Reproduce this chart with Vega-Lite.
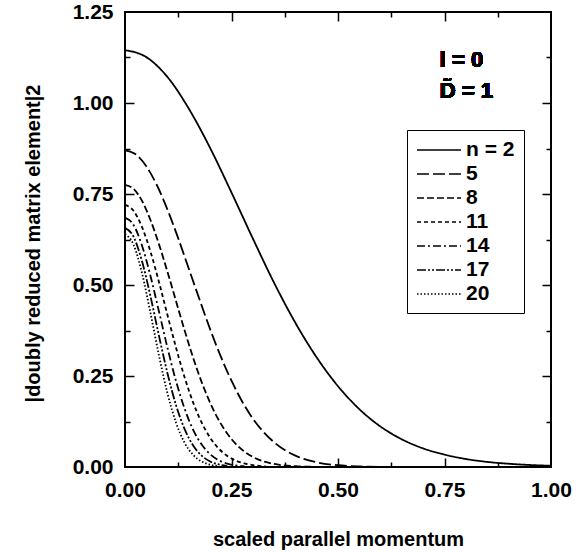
{
  "$schema": "https://vega.github.io/schema/vega-lite/v6.json",
  "autosize": "none",
  "width": 426,
  "height": 455,
  "padding": {"left": 125, "top": 12, "right": 34, "bottom": 85},
  "background": "white",
  "config": {
    "view": {"stroke": "black", "strokeWidth": 2},
    "font": "Liberation Sans",
    "axis": {
      "grid": false, "domain": false,
      "labelFont": "Liberation Sans", "labelFontSize": 21, "labelFontWeight": "bold", "labelColor": "black",
      "titleFont": "Liberation Sans", "titleFontSize": 20, "titleFontWeight": "bold", "titleColor": "black",
      "tickColor": "black", "tickWidth": 1.5
    }
  },
  "data": {"values": [
    {"s":"n = 2","x":0,"y":1.145},{"s":"n = 2","x":0.05,"y":1.126},{"s":"n = 2","x":0.1,"y":1.071},{"s":"n = 2","x":0.15,"y":0.984},{"s":"n = 2","x":0.2,"y":0.876},{"s":"n = 2","x":0.25,"y":0.754},{"s":"n = 2","x":0.3,"y":0.628},{"s":"n = 2","x":0.35,"y":0.506},{"s":"n = 2","x":0.4,"y":0.396},{"s":"n = 2","x":0.45,"y":0.301},{"s":"n = 2","x":0.5,"y":0.222},{"s":"n = 2","x":0.55,"y":0.159},{"s":"n = 2","x":0.6,"y":0.111},{"s":"n = 2","x":0.65,"y":0.076},{"s":"n = 2","x":0.7,"y":0.051},{"s":"n = 2","x":0.75,"y":0.034},{"s":"n = 2","x":0.8,"y":0.022},{"s":"n = 2","x":0.85,"y":0.014},{"s":"n = 2","x":0.9,"y":0.009},{"s":"n = 2","x":0.95,"y":0.0055},{"s":"n = 2","x":1.0,"y":0.0035},
    {"s":"5","x":0,"y":0.87},{"s":"5","x":0.025,"y":0.859},{"s":"5","x":0.05,"y":0.826},{"s":"5","x":0.075,"y":0.774},{"s":"5","x":0.1,"y":0.706},{"s":"5","x":0.125,"y":0.628},{"s":"5","x":0.15,"y":0.544},{"s":"5","x":0.175,"y":0.46},{"s":"5","x":0.2,"y":0.378},{"s":"5","x":0.225,"y":0.303},{"s":"5","x":0.25,"y":0.237},{"s":"5","x":0.275,"y":0.18},{"s":"5","x":0.3,"y":0.133},{"s":"5","x":0.325,"y":0.0964},{"s":"5","x":0.35,"y":0.0678},{"s":"5","x":0.375,"y":0.0464},{"s":"5","x":0.4,"y":0.0311},{"s":"5","x":0.45,"y":0.0128},{"s":"5","x":0.5,"y":0.0048},{"s":"5","x":0.55,"y":0.0016},{"s":"5","x":0.6,"y":0.0005},
    {"s":"8","x":0,"y":0.775},{"s":"8","x":0.02,"y":0.764},{"s":"8","x":0.04,"y":0.731},{"s":"8","x":0.06,"y":0.678},{"s":"8","x":0.08,"y":0.611},{"s":"8","x":0.1,"y":0.535},{"s":"8","x":0.12,"y":0.455},{"s":"8","x":0.14,"y":0.375},{"s":"8","x":0.16,"y":0.3},{"s":"8","x":0.18,"y":0.233},{"s":"8","x":0.2,"y":0.176},{"s":"8","x":0.22,"y":0.129},{"s":"8","x":0.24,"y":0.0918},{"s":"8","x":0.26,"y":0.0634},{"s":"8","x":0.28,"y":0.0425},{"s":"8","x":0.3,"y":0.0277},{"s":"8","x":0.33,"y":0.0138},{"s":"8","x":0.36,"y":0.0063},{"s":"8","x":0.4,"y":0.0021},{"s":"8","x":0.45,"y":0.0004},
    {"s":"11","x":0,"y":0.72},{"s":"11","x":0.02,"y":0.704},{"s":"11","x":0.04,"y":0.659},{"s":"11","x":0.06,"y":0.591},{"s":"11","x":0.08,"y":0.507},{"s":"11","x":0.1,"y":0.416},{"s":"11","x":0.12,"y":0.327},{"s":"11","x":0.14,"y":0.246},{"s":"11","x":0.16,"y":0.177},{"s":"11","x":0.18,"y":0.122},{"s":"11","x":0.2,"y":0.0803},{"s":"11","x":0.22,"y":0.0506},{"s":"11","x":0.24,"y":0.0305},{"s":"11","x":0.26,"y":0.0177},{"s":"11","x":0.28,"y":0.0098},{"s":"11","x":0.3,"y":0.0052},{"s":"11","x":0.33,"y":0.0018},
    {"s":"14","x":0,"y":0.685},{"s":"14","x":0.02,"y":0.665},{"s":"14","x":0.04,"y":0.608},{"s":"14","x":0.06,"y":0.524},{"s":"14","x":0.08,"y":0.426},{"s":"14","x":0.1,"y":0.326},{"s":"14","x":0.12,"y":0.235},{"s":"14","x":0.14,"y":0.16},{"s":"14","x":0.16,"y":0.102},{"s":"14","x":0.18,"y":0.0617},{"s":"14","x":0.2,"y":0.0351},{"s":"14","x":0.22,"y":0.0188},{"s":"14","x":0.24,"y":0.0095},{"s":"14","x":0.26,"y":0.0045},{"s":"14","x":0.28,"y":0.002},
    {"s":"17","x":0,"y":0.657},{"s":"17","x":0.02,"y":0.633},{"s":"17","x":0.04,"y":0.565},{"s":"17","x":0.06,"y":0.468},{"s":"17","x":0.08,"y":0.359},{"s":"17","x":0.1,"y":0.256},{"s":"17","x":0.12,"y":0.169},{"s":"17","x":0.14,"y":0.104},{"s":"17","x":0.16,"y":0.059},{"s":"17","x":0.18,"y":0.031},{"s":"17","x":0.2,"y":0.0152},{"s":"17","x":0.22,"y":0.0069},{"s":"17","x":0.24,"y":0.0029},
    {"s":"20","x":0,"y":0.64},{"s":"20","x":0.02,"y":0.611},{"s":"20","x":0.04,"y":0.532},{"s":"20","x":0.06,"y":0.422},{"s":"20","x":0.08,"y":0.305},{"s":"20","x":0.1,"y":0.201},{"s":"20","x":0.12,"y":0.121},{"s":"20","x":0.14,"y":0.0664},{"s":"20","x":0.16,"y":0.0332},{"s":"20","x":0.18,"y":0.0151},{"s":"20","x":0.2,"y":0.0063},{"s":"20","x":0.22,"y":0.0024}
  ]},
  "resolve": {"axis": {"x": "independent", "y": "independent"}},
  "layer": [
    {
      "mark": {"type": "line", "stroke": "black", "strokeWidth": 1.8, "interpolate": "monotone"},
      "encoding": {
        "x": {"field": "x", "type": "quantitative",
          "scale": {"domain": [0, 1], "nice": false, "zero": false},
          "axis": {"orient": "bottom", "values": [0, 0.25, 0.5, 0.75, 1], "format": ".2f", "ticks": false, "labelPadding": 12, "labelFlush": false,
            "title": "scaled parallel momentum", "titleX": 213, "titleY": 78, "titleBaseline": "alphabetic"}},
        "y": {"field": "y", "type": "quantitative",
          "scale": {"domain": [0, 1.25], "nice": false, "zero": false},
          "axis": {"orient": "left", "values": [0, 0.25, 0.5, 0.75, 1, 1.25], "format": ".2f", "ticks": false, "labelPadding": 12, "labelFlush": false,
            "title": "|doubly reduced matrix element|2", "titleX": -86, "titleY": 231, "titleBaseline": "alphabetic", "titleAngle": 270}},
        "strokeDash": {"field": "s", "type": "nominal",
          "scale": {"domain": ["n = 2", "5", "8", "11", "14", "17", "20"],
                    "range": [[1, 0], [12, 4], [7, 3], [4, 3], [8, 3, 2, 3], [9, 2, 2, 2, 2, 2], [1.5, 2]]},
          "legend": {"orient": "none", "legendX": 282, "legendY": 118, "title": null,
            "symbolType": "M-1,0H3.4", "symbolSize": 400, "symbolStrokeWidth": 1.6, "symbolStrokeColor": "black", "symbolFillColor": "transparent",
            "labelFont": "Liberation Sans", "labelFontSize": 21, "labelFontWeight": "bold", "labelColor": "black",
            "labelOffset": 28, "rowPadding": 3, "strokeColor": "black", "padding": 9, "fillColor": "white"}}
      }
    },
    {
      "mark": {"type": "point", "opacity": 0},
      "encoding": {
        "x": {"field": "x", "type": "quantitative", "scale": {"domain": [0, 1], "nice": false, "zero": false},
          "axis": {"orient": "bottom", "values": [0.25, 0.5, 0.75], "labels": false, "tickSize": -9, "title": null}},
        "y": {"field": "y", "type": "quantitative", "scale": {"domain": [0, 1.25], "nice": false, "zero": false},
          "axis": {"orient": "left", "values": [0.25, 0.5, 0.75, 1], "labels": false, "tickSize": -9, "title": null}}
      }
    },
    {
      "mark": {"type": "point", "opacity": 0},
      "encoding": {
        "x": {"field": "x", "type": "quantitative", "scale": {"domain": [0, 1], "nice": false, "zero": false},
          "axis": {"orient": "bottom", "values": [0.125, 0.375, 0.625, 0.875], "labels": false, "tickSize": -5, "title": null}},
        "y": {"field": "y", "type": "quantitative", "scale": {"domain": [0, 1.25], "nice": false, "zero": false},
          "axis": {"orient": "left", "values": [0.125, 0.375, 0.625, 0.875, 1.125], "labels": false, "tickSize": -5, "title": null}}
      }
    },
    {
      "mark": {"type": "point", "opacity": 0},
      "encoding": {
        "x": {"field": "x", "type": "quantitative", "scale": {"domain": [0, 1], "nice": false, "zero": false},
          "axis": {"orient": "top", "values": [0.25, 0.5, 0.75], "labels": false, "tickSize": -9, "title": null}},
        "y": {"field": "y", "type": "quantitative", "scale": {"domain": [0, 1.25], "nice": false, "zero": false},
          "axis": {"orient": "right", "values": [0.25, 0.5, 0.75, 1], "labels": false, "tickSize": -9, "title": null}}
      }
    },
    {
      "mark": {"type": "point", "opacity": 0},
      "encoding": {
        "x": {"field": "x", "type": "quantitative", "scale": {"domain": [0, 1], "nice": false, "zero": false},
          "axis": {"orient": "top", "values": [0.125, 0.375, 0.625, 0.875], "labels": false, "tickSize": -5, "title": null}},
        "y": {"field": "y", "type": "quantitative", "scale": {"domain": [0, 1.25], "nice": false, "zero": false},
          "axis": {"orient": "right", "values": [0.125, 0.375, 0.625, 0.875, 1.125], "labels": false, "tickSize": -5, "title": null}}
      }
    },
    {
      "mark": {"type": "text", "text": "l = 0", "align": "left", "baseline": "alphabetic", "font": "Liberation Sans", "fontSize": 22, "fontWeight": "bold", "color": "black"},
      "encoding": {
        "x": {"datum": 0.739, "type": "quantitative", "axis": null},
        "y": {"datum": 1.1, "type": "quantitative", "axis": null}
      }
    },
    {
      "mark": {"type": "text", "text": "D̃ = 1", "align": "left", "baseline": "alphabetic", "font": "Liberation Sans", "fontSize": 22, "fontWeight": "bold", "color": "black"},
      "encoding": {
        "x": {"datum": 0.739, "type": "quantitative", "axis": null},
        "y": {"datum": 1.013, "type": "quantitative", "axis": null}
      }
    }
  ]
}
